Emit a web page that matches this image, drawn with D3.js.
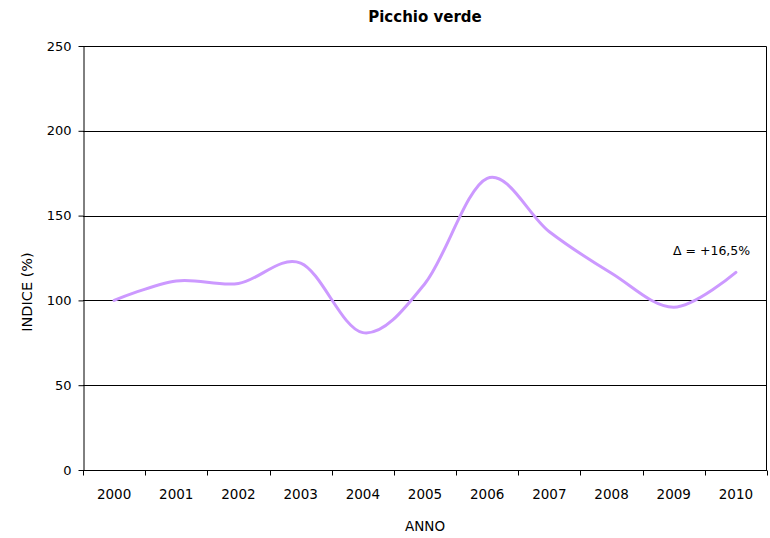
<!DOCTYPE html>
<html>
<head>
<meta charset="utf-8">
<script src="https://cdn.jsdelivr.net/npm/d3@7"></script>
<style>
  html, body { margin: 0; padding: 0; background: #fff; }
  svg { display: block; font-family: "DejaVu Sans", Verdana, sans-serif; }
</style>
</head>
<body>
<svg id="chart" width="770" height="538"></svg>
<script>
// Annual index for the green woodpecker (base year 2000 = 100)
const years = ["2000", "2001", "2002", "2003", "2004", "2005", "2006", "2007", "2008", "2009", "2010"];
const indexValues = [100, 111.5, 110, 122, 81, 110, 172, 140.5, 116, 96, 116.5];
const yTicks = [0, 50, 100, 150, 200, 250];
const changeLabel = "Δ = +16,5%";

const svg = d3.select("#chart");
const margin = { left: 83, right: 3, top: 46, bottom: 68 };
const W = 770, H = 538;
const plotW = W - margin.left - margin.right;
const plotH = H - margin.top - margin.bottom;

const x = d3.scaleBand().domain(years).range([margin.left, margin.left + plotW]);
const y = d3.scaleLinear().domain([0, 250]).range([margin.top + plotH, margin.top]);

// Horizontal gridlines
svg.append("g")
  .selectAll("line")
  .data(yTicks.filter(d => d > 0 && d < 250))
  .join("line")
  .attr("x1", margin.left).attr("x2", margin.left + plotW)
  .attr("y1", d => Math.round(y(d)) + 0.5).attr("y2", d => Math.round(y(d)) + 0.5)
  .attr("stroke", "#000").attr("stroke-width", 1);

// Plot frame (top and right)
svg.append("path")
  .attr("d", `M${margin.left},${margin.top + 0.5}H${margin.left + plotW - 0.5}V${margin.top + plotH}`)
  .attr("fill", "none").attr("stroke", "#000").attr("stroke-width", 1);

// Y axis
const yAxis = svg.append("g")
  .attr("transform", `translate(${margin.left + 0.5},0)`)
  .call(d3.axisLeft(y).tickValues(yTicks).tickSize(5).tickPadding(7).tickSizeOuter(0));
yAxis.select(".domain").attr("stroke", "#000");
yAxis.selectAll(".tick line").attr("stroke", "#000");
yAxis.selectAll(".tick text").attr("font-size", 13).attr("fill", "#000")
  .attr("font-family", "DejaVu Sans, Verdana, sans-serif");

// X axis with ticks between categories
const xAxisG = svg.append("g")
  .attr("transform", `translate(0,${margin.top + plotH + 0.5})`);
xAxisG.append("line")
  .attr("x1", margin.left).attr("x2", margin.left + plotW)
  .attr("stroke", "#000");
const boundaries = years.map(d => x(d)).concat([x(years[years.length - 1]) + x.bandwidth()]);
xAxisG.selectAll("line.tk")
  .data(boundaries)
  .join("line").attr("class", "tk")
  .attr("x1", d => Math.round(d) + 0.5).attr("x2", d => Math.round(d) + 0.5)
  .attr("y1", 0).attr("y2", 5)
  .attr("stroke", "#000");
xAxisG.selectAll("text")
  .data(years)
  .join("text")
  .attr("x", d => x(d) + x.bandwidth() / 2)
  .attr("y", 28)
  .attr("text-anchor", "middle")
  .attr("font-size", 13.5)
  .attr("fill", "#000")
  .text(d => d);

// Smoothed index line
const line = d3.line()
  .x((d, i) => x(years[i]) + x.bandwidth() / 2)
  .y(d => y(d))
  .curve(d3.curveCardinal.tension(0));
svg.append("path")
  .datum(indexValues)
  .attr("d", line)
  .attr("fill", "none")
  .attr("stroke", "#cc99ff")
  .attr("stroke-width", 3)
  .attr("stroke-linecap", "round");

// Change annotation
svg.append("text")
  .attr("x", 673).attr("y", 255)
  .attr("text-anchor", "start")
  .attr("font-size", 12.5)
  .attr("fill", "#000")
  .text(changeLabel);

// Title
svg.append("text")
  .attr("x", margin.left + plotW / 2).attr("y", 22)
  .attr("text-anchor", "middle")
  .attr("font-size", 15).attr("font-weight", "bold")
  .attr("fill", "#000")
  .text("Picchio verde");

// Axis titles
svg.append("text")
  .attr("x", margin.left + plotW / 2).attr("y", 531)
  .attr("text-anchor", "middle")
  .attr("font-size", 13.5)
  .attr("fill", "#000")
  .text("ANNO");

svg.append("text")
  .attr("transform", `translate(32,292) rotate(-90)`)
  .attr("text-anchor", "middle")
  .attr("font-size", 14.5)
  .attr("fill", "#000")
  .text("INDICE (%)");
</script>
</body>
</html>
